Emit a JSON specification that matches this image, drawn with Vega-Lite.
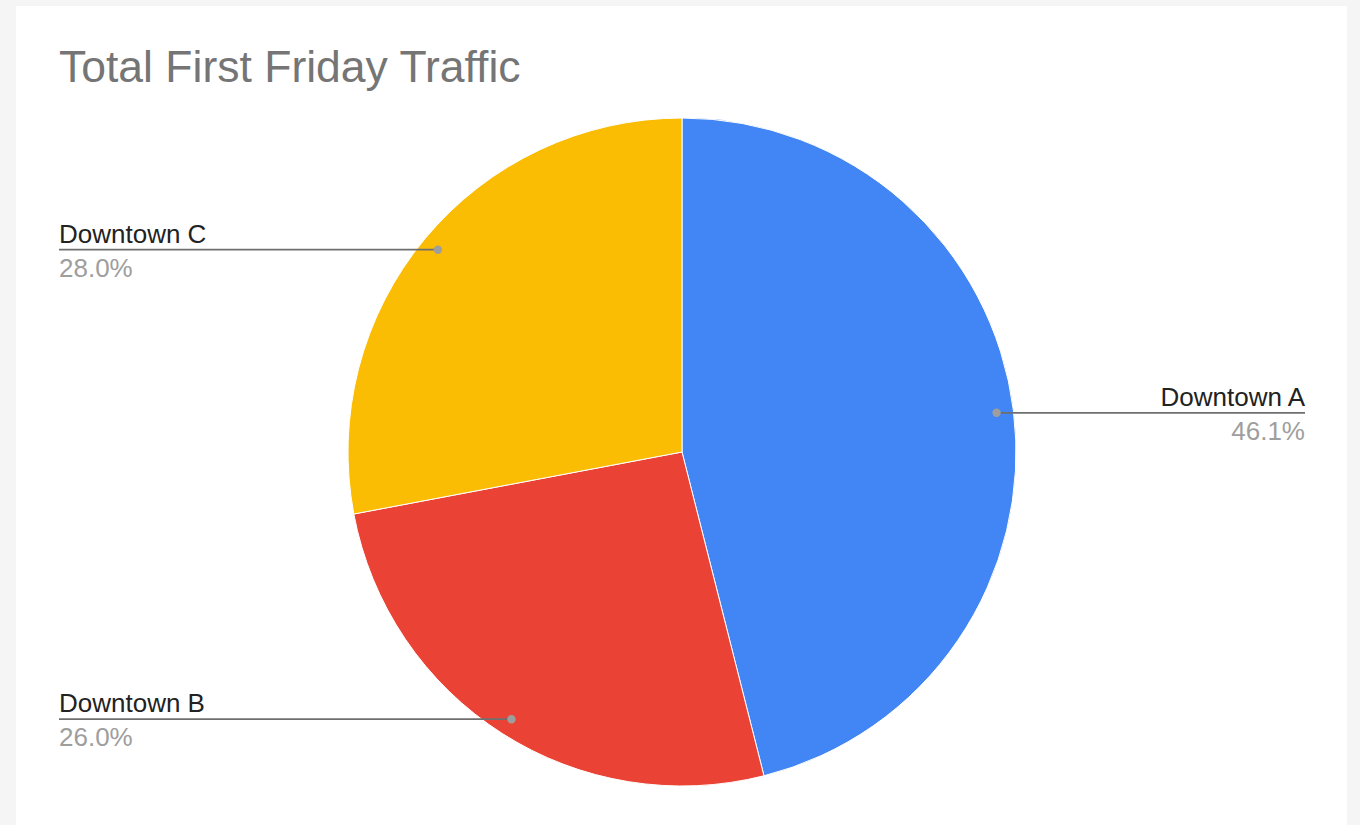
{
  "$schema": "https://vega.github.io/schema/vega-lite/v6.json",
  "width": 1331,
  "height": 819,
  "autosize": "none",
  "padding": {"left": 16, "top": 6, "right": 13, "bottom": 0},
  "background": "#f5f5f5",
  "view": {"fill": "white", "stroke": null},
  "title": {
    "text": "Total First Friday Traffic",
    "anchor": "start",
    "frame": "group",
    "font": "Liberation Sans",
    "fontSize": 44.5,
    "fontWeight": "normal",
    "color": "#757575",
    "baseline": "alphabetic",
    "offset": -120,
    "dx": 43
  },
  "data": {
    "values": [
      {"category": "Downtown A", "share": 0.461},
      {"category": "Downtown B", "share": 0.260},
      {"category": "Downtown C", "share": 0.280}
    ]
  },
  "transform": [
    {"joinaggregate": [{"op": "sum", "field": "share", "as": "total"}]},
    {"window": [{"op": "sum", "field": "share", "as": "cum"}], "sort": [{"field": "category", "order": "ascending"}], "frame": [null, 0]},
    {"calculate": "2*PI*(datum.cum - datum.share/2)/datum.total", "as": "mid"},
    {"calculate": "317*sin(datum.mid)", "as": "dotX"},
    {"calculate": "317*cos(datum.mid)", "as": "dotY"},
    {"calculate": "datum.dotX < 0 ? -623 : 623", "as": "labelX"},
    {"calculate": "datum.dotX < 0 ? 'left' : 'right'", "as": "side"}
  ],
  "layer": [
    {
      "mark": {"type": "arc", "outerRadius": 334, "stroke": "white", "strokeWidth": 1},
      "encoding": {
        "theta": {"field": "share", "type": "quantitative", "stack": true},
        "color": {
          "field": "category",
          "type": "nominal",
          "scale": {"domain": ["Downtown A", "Downtown B", "Downtown C"], "range": ["#4285F4", "#EA4335", "#FBBC04"]},
          "legend": null
        },
        "order": {"field": "category", "sort": "ascending"},
        "x": {"datum": 0, "type": "quantitative", "scale": {"domain": [-666, 665], "nice": false, "zero": false}, "axis": null},
        "y": {"datum": 0, "type": "quantitative", "scale": {"domain": [-373, 446], "nice": false, "zero": false}, "axis": null}
      }
    },
    {
      "mark": {"type": "rule", "color": "#6f6f6f", "strokeWidth": 1.8},
      "encoding": {
        "x": {"field": "dotX", "type": "quantitative"},
        "x2": {"field": "labelX"},
        "y": {"field": "dotY", "type": "quantitative"}
      }
    },
    {
      "mark": {"type": "point", "filled": true, "size": 70, "color": "#9e9e9e", "opacity": 1},
      "encoding": {
        "x": {"field": "dotX", "type": "quantitative"},
        "y": {"field": "dotY", "type": "quantitative"}
      }
    },
    {
      "transform": [{"filter": "datum.side == 'left'"}],
      "mark": {"type": "text", "align": "left", "baseline": "alphabetic", "dy": -7, "font": "Liberation Sans", "fontSize": 26, "color": "#222222"},
      "encoding": {
        "x": {"field": "labelX", "type": "quantitative"},
        "y": {"field": "dotY", "type": "quantitative"},
        "text": {"field": "category"}
      }
    },
    {
      "transform": [{"filter": "datum.side == 'left'"}],
      "mark": {"type": "text", "align": "left", "baseline": "alphabetic", "dy": 27, "font": "Liberation Sans", "fontSize": 26, "color": "#9e9e9e"},
      "encoding": {
        "x": {"field": "labelX", "type": "quantitative"},
        "y": {"field": "dotY", "type": "quantitative"},
        "text": {"field": "share", "format": ".1%"}
      }
    },
    {
      "transform": [{"filter": "datum.side == 'right'"}],
      "mark": {"type": "text", "align": "right", "baseline": "alphabetic", "dy": -7, "font": "Liberation Sans", "fontSize": 26, "color": "#222222"},
      "encoding": {
        "x": {"field": "labelX", "type": "quantitative"},
        "y": {"field": "dotY", "type": "quantitative"},
        "text": {"field": "category"}
      }
    },
    {
      "transform": [{"filter": "datum.side == 'right'"}],
      "mark": {"type": "text", "align": "right", "baseline": "alphabetic", "dy": 27, "font": "Liberation Sans", "fontSize": 26, "color": "#9e9e9e"},
      "encoding": {
        "x": {"field": "labelX", "type": "quantitative"},
        "y": {"field": "dotY", "type": "quantitative"},
        "text": {"field": "share", "format": ".1%"}
      }
    }
  ]
}
